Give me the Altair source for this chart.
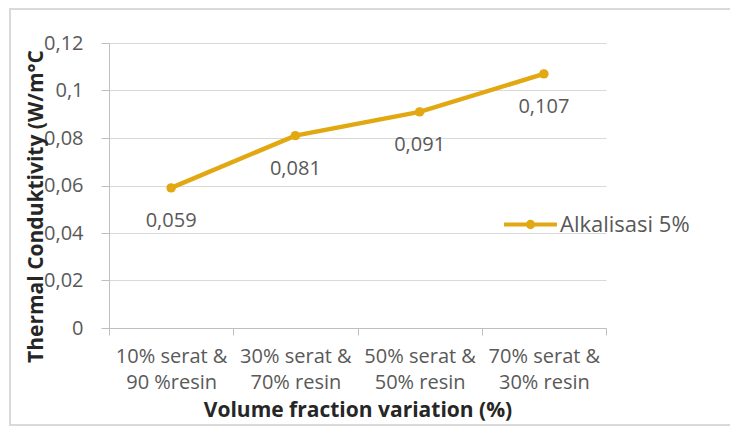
import altair as alt
import pandas as pd

categories = ["10% serat &|90 %resin", "30% serat &|70% resin", "50% serat &|50% resin", "70% serat &|30% resin"]
values = [0.059, 0.081, 0.091, 0.107]
labels = ["0,059", "0,081", "0,091", "0,107"]
series = "Alkalisasi 5%"
y_ticks = [0, 0.02, 0.04, 0.06, 0.08, 0.1, 0.12]

df = pd.DataFrame({"cat": categories, "val": values, "lab": labels, "series": series})

FONT = "Open Sans"
GOLD = "#E2A812"
TXT = "#595959"

x_enc = alt.X("cat:N", sort=categories,
              scale=alt.Scale(paddingInner=0, paddingOuter=0),
              axis=alt.Axis(title="Volume fraction variation  (%)", labelAngle=0,
                            labelExpr="split(datum.label, '|')",
                            tickBand="extent", tickSize=7, tickColor="#BFBFBF",
                            domainColor="#BFBFBF", labelPadding=11, labelLineHeight=26,
                            titlePadding=7, titleFontSize=21, grid=False))
y_enc = alt.Y("val:Q", scale=alt.Scale(domain=[0, 0.12]),
              axis=alt.Axis(title="Thermal Conduktivity  (W/m°C", values=y_ticks,
                            labelExpr="replace(format(datum.value, ''), '.', ',')",
                            tickSize=8, tickColor="#BFBFBF", domainColor="#BFBFBF",
                            gridColor="#D9D9D9", labelPadding=18, titlePadding=-3,
                            titleFontSize=21, titleY=163))

symbol_path = "M-1,0H1M-0.1,0A0.1,0.1 0 1,1 0.1,0A0.1,0.1 0 1,1 -0.1,0Z"

color = alt.Color("series:N", scale=alt.Scale(domain=[series], range=[GOLD]),
                  legend=alt.Legend(title=None, orient="none", legendX=393, legendY=153,
                                    symbolType=symbol_path, symbolSize=2800, symbolStrokeWidth=4,
                                    symbolFillColor=GOLD, symbolStrokeColor=GOLD,
                                    labelFontSize=22, labelFont=FONT, labelColor=TXT,
                                    labelOffset=1))

line = alt.Chart(df).mark_line(strokeWidth=4.5, point=alt.OverlayMarkDef(size=90, filled=True, color=GOLD)).encode(
    x=x_enc, y=y_enc, color=color)

text = alt.Chart(df).mark_text(dy=33, fontSize=20, font=FONT, color=TXT).encode(
    x=alt.X("cat:N", sort=categories), y="val:Q", text="lab:N")

border = alt.Chart(df).mark_rect(fill=None, stroke="#D9D9D9", strokeWidth=1.5, clip=False).encode(
    x=alt.value(-99), x2=alt.value(629), y=alt.value(-34), y2=alt.value(382))

chart = alt.layer(border, line, text).properties(
    width=497, height=285,
    padding={"left": 101, "top": 35, "right": 124, "bottom": 100},
    autosize=alt.AutoSizeParams(type="none"),
).configure_view(stroke=None).configure_axis(
    labelFont=FONT, labelFontSize=20, labelColor=TXT,
    titleFont=FONT, titleFontWeight="bold", titleColor="#262626",
)

chart.save("out.html", embed_options={"renderer": "svg", "actions": False})
